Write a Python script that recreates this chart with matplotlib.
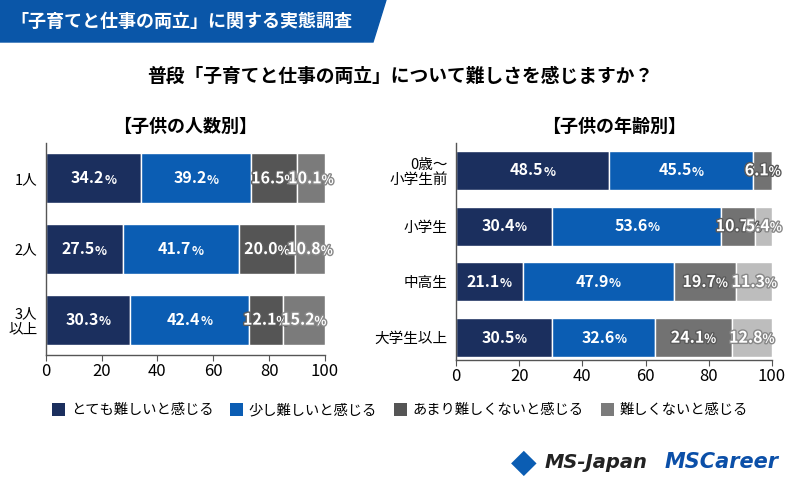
import matplotlib.pyplot as plt
import matplotlib.patheffects as pe
from matplotlib.patches import Patch, Polygon
import numpy as np

plt.rcParams['font.family'] = ['Noto Sans CJK JP', 'DejaVu Sans']

# data
series = ["とても難しいと感じる", "少し難しいと感じる", "あまり難しくないと感じる", "難しくないと感じる"]

count_labels = ["1人", "2人", "3人\n以上"]
count_vals = [
    [34.2, 27.5, 30.3],
    [39.2, 41.7, 42.4],
    [16.5, 20.0, 12.1],
    [10.1, 10.8, 15.2],
]

age_labels = ["0歳～\n小学生前", "小学生", "中高生", "大学生以上"]
age_vals = [
    [48.5, 30.4, 21.1, 30.5],
    [45.5, 53.6, 47.9, 32.6],
    [6.1, 10.7, 19.7, 24.1],
    [0.0, 5.4, 11.3, 12.8],
]

legend_colors = ["#1b2f5e", "#0b5db3", "#555555", "#7b7b7b"]
left_colors = ["#1b2f5e", "#0b5db3", "#555555", "#7b7b7b"]
right_colors = ["#1b2f5e", "#0b5db3", "#727272", "#bdbdbd"]

W, H = 800, 495
fig = plt.figure(figsize=(8, 4.95), dpi=100)
renderer = fig.canvas.get_renderer()


def fx(px):
    return px / W


def fy(py):
    return 1 - py / H


def seg_label(ax, cx, y, val, effects):
    # number + smaller % sign, centred together on the segment
    t1 = ax.text(cx, y, f"{val:.1f}", ha='left', va='center', color='white',
                 fontsize=11.5, fontweight='bold', path_effects=effects, clip_on=False)
    t2 = ax.text(cx, y + 0.03, "%", ha='left', va='center', color='white',
                 fontsize=9, fontweight='bold', path_effects=effects, clip_on=False)
    w1 = t1.get_window_extent(renderer).width
    w2 = t2.get_window_extent(renderer).width
    per_px = 100 / ax.get_window_extent(renderer).width
    x0 = cx - (w1 + w2) / 2 * per_px
    t1.set_x(x0)
    t2.set_x(x0 + w1 * per_px)


def draw_panel(ax, labels, vals, colors, title, bar_h, ylim):
    n = len(labels)
    y = np.arange(n)
    ax.set_xlim(0, 100)
    ax.set_ylim(*ylim)
    left = np.zeros(n)
    for i, v in enumerate(vals):
        v = np.array(v)
        ax.barh(y, v, left=left, height=bar_h, color=colors[i],
                edgecolor='white', linewidth=1)
        for j in range(n):
            if v[j] <= 0:
                continue
            if i < 2:
                effects = None
            else:
                effects = [pe.withStroke(linewidth=2, foreground='#5a5a5a' if i == 2 else '#888888')]
            seg_label(ax, left[j] + v[j] / 2, y[j], v[j], effects)
        left = left + v
    ax.set_yticks(y)
    ax.set_yticklabels(labels, fontsize=10.5, linespacing=1.15)
    ax.set_xticks([0, 20, 40, 60, 80, 100])
    ax.tick_params(axis='x', labelsize=12, length=4, color='#555555', pad=2)
    ax.tick_params(axis='y', length=0, pad=6)
    for s in ['top', 'right']:
        ax.spines[s].set_visible(False)
    for s in ['left', 'bottom']:
        ax.spines[s].set_color('#555555')
        ax.spines[s].set_linewidth(1)
    ax.set_title(title, fontsize=13, fontweight='bold', pad=8)


ax1 = fig.add_axes([fx(45.7), fy(355), fx(325 - 45.7), (355 - 143) / H])
draw_panel(ax1, count_labels, count_vals, left_colors, "【子供の人数別】", 0.71, (2.5, -0.5))

ax2 = fig.add_axes([fx(456), fy(360), fx(772 - 456), (360 - 143) / H])
draw_panel(ax2, age_labels, age_vals, right_colors, "【子供の年齢別】", 0.70, (3.4, -0.49))

# header banner
banner = Polygon([[0, 1], [fx(386), 1], [fx(373), fy(42)], [0, fy(42)]],
                 closed=True, transform=fig.transFigure, color='#0a56a8', zorder=0)
fig.patches.append(banner)
fig.text(fx(10), fy(21), "「子育てと仕事の両立」に関する実態調査", color='white',
         fontsize=13, fontweight='bold', va='center', ha='left')

fig.text(0.5, fy(76), "普段「子育てと仕事の両立」について難しさを感じますか？",
         fontsize=13.5, fontweight='bold', ha='center', va='center')

handles = [Patch(facecolor=c, edgecolor='none') for c in legend_colors]
fig.legend(handles, series, loc='center', bbox_to_anchor=(0.5, fy(410)), ncol=4,
           frameon=False, fontsize=10.3, handlelength=0.9, handleheight=1.0,
           handletextpad=0.4, columnspacing=1.2)

# logos
fig.text(fx(524), fy(462), "◆", color='#0b5db3', fontsize=24, ha='center', va='center',
         family='DejaVu Sans')
fig.text(fx(545), fy(462), "MS-Japan", color='#222222', fontsize=14, fontweight='bold',
         style='italic', ha='left', va='center', family='DejaVu Sans')
fig.text(fx(665), fy(462), "MSCareer", color='#0b4fa8', fontsize=15, fontweight='bold',
         style='italic', ha='left', va='center', family='DejaVu Sans')

fig.savefig("out.png", dpi=100)
